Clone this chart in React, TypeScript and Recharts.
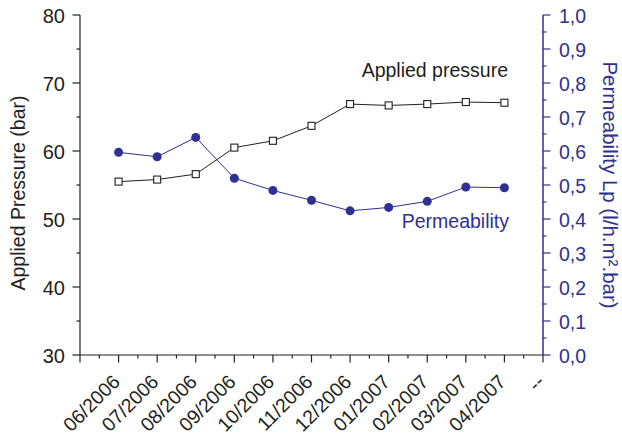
import React from 'react';
import { LineChart, Line, XAxis, YAxis } from 'recharts';

const xLabels = ['', '06/2006', '07/2006', '08/2006', '09/2006', '10/2006', '11/2006', '12/2006', '01/2007', '02/2007', '03/2007', '04/2007', '--'];
const xTicks = [0, 0.5, 1, 1.5, 2, 2.5, 3, 3.5, 4, 4.5, 5, 5.5, 6, 6.5, 7, 7.5, 8, 8.5, 9, 9.5, 10, 10.5, 11, 11.5, 12];
const pressure = [55.5, 55.8, 56.6, 60.5, 61.5, 63.7, 66.9, 66.7, 66.9, 67.2, 67.1];
const permeability = [0.596, 0.583, 0.64, 0.52, 0.484, 0.455, 0.424, 0.434, 0.452, 0.494, 0.492];
const leftTicks = [30, 35, 40, 45, 50, 55, 60, 65, 70, 75, 80];
const rightTicks = [0, 0.05, 0.1, 0.15, 0.2, 0.25, 0.3, 0.35, 0.4, 0.45, 0.5, 0.55, 0.6, 0.65, 0.7, 0.75, 0.8, 0.85, 0.9, 0.95, 1];

const data = pressure.map((p, i) => ({ x: i + 1, label: xLabels[i + 1], pressure: p, perm: permeability[i] }));

const BLACK = '#231f20';
const BLUE = '#2E3192';
const FONT = '"Liberation Sans", Arial, Helvetica, sans-serif';

const isInt = (v: number) => Math.abs(v - Math.round(v)) < 1e-6;

const XTick = (props: any) => {
  const { x, y, payload } = props;
  const v = payload.value as number;
  const major = isInt(v);
  const label = major ? xLabels[Math.round(v)] : '';
  return (
    <g>
      <line x1={x} x2={x} y1={y} y2={y + (major ? 7.5 : 3.5)} stroke={BLACK} strokeWidth={1.2} />
      {label ? (
        <text
          transform={`translate(${x + 2.5},${y + 28}) rotate(-45)`}
          textAnchor="end"
          fontSize={19.5}
          fontFamily={FONT}
          fill={BLACK}
        >
          {label}
        </text>
      ) : null}
    </g>
  );
};

const TopTick = (props: any) => {
  const { x, y, payload } = props;
  const v = payload.value as number;
  const major = isInt(v);
  return <line x1={x} x2={x} y1={y} y2={y + (major ? 5 : 3.5)} stroke={BLACK} strokeWidth={1.2} />;
};

const LeftTick = (props: any) => {
  const { x, y, payload } = props;
  const v = payload.value as number;
  const major = Math.round(v) % 10 === 0;
  return (
    <g>
      <line x1={x} x2={x - (major ? 7.5 : 3.5)} y1={y} y2={y} stroke={BLACK} strokeWidth={1.2} />
      {major ? (
        <text x={x - 15} y={y} dy="0.42em" textAnchor="end" fontSize={20} fontFamily={FONT} fill={BLACK}>
          {String(v)}
        </text>
      ) : null}
    </g>
  );
};

const RightTick = (props: any) => {
  const { x, y, payload } = props;
  const v = payload.value as number;
  const major = Math.abs(v * 10 - Math.round(v * 10)) < 1e-6;
  return (
    <g>
      <line x1={x} x2={x + (major ? 7.5 : 3.5)} y1={y} y2={y} stroke={BLUE} strokeWidth={1.2} />
      {major ? (
        <text x={x + 16} y={y} dy="0.42em" textAnchor="start" fontSize={19.5} fontFamily={FONT} fill={BLUE}>
          {v.toFixed(1).replace('.', ',')}
        </text>
      ) : null}
    </g>
  );
};

const SquareDot = (props: any) => {
  const { cx, cy, index } = props;
  if (cx == null || cy == null) return <g key={`sq-${index}`} />;
  return <rect key={`sq-${index}`} x={cx - 3.5} y={cy - 3.5} width={7} height={7} fill="#fff" stroke={BLACK} strokeWidth={1.1} />;
};

export default function App() {
  return (
    <div style={{ position: 'absolute', left: 0, top: 0, background: '#fff' }}>
      <LineChart width={622} height={437} data={data} margin={{ top: 15, right: 0, bottom: 0, left: 0 }}>
        <XAxis
          xAxisId="bottom"
          dataKey="x"
          type="number"
          domain={[0, 12]}
          ticks={xTicks}
          interval={0}
          tickSize={0}
          tickMargin={0}
          tickLine={false}
          axisLine={{ stroke: BLACK, strokeWidth: 1.2 }}
          tick={(p: any) => <XTick {...p} />}
          height={82}
        />
        <XAxis
          xAxisId="top"
          orientation="top"
          dataKey="x"
          type="number"
          domain={[0, 12]}
          ticks={xTicks}
          interval={0}
          tickSize={0}
          tickMargin={0}
          tickLine={false}
          axisLine={{ stroke: BLACK, strokeWidth: 1.2 }}
          tick={(p: any) => <TopTick {...p} />}
          height={0}
        />
        <YAxis
          yAxisId="left"
          type="number"
          domain={[30, 80]}
          ticks={leftTicks}
          interval={0}
          tickSize={0}
          tickMargin={0}
          tickLine={false}
          axisLine={{ stroke: BLACK, strokeWidth: 1.2 }}
          tick={(p: any) => <LeftTick {...p} />}
          width={80}
        />
        <YAxis
          yAxisId="right"
          orientation="right"
          type="number"
          domain={[0, 1]}
          ticks={rightTicks}
          interval={0}
          tickSize={0}
          tickMargin={0}
          tickLine={false}
          axisLine={{ stroke: BLUE, strokeWidth: 1.5 }}
          tick={(p: any) => <RightTick {...p} />}
          width={79}
        />
        <Line
          xAxisId="bottom"
          yAxisId="right"
          dataKey="perm"
          type="linear"
          stroke={BLUE}
          strokeWidth={1}
          dot={{ r: 4.5, fill: BLUE, stroke: BLUE, strokeWidth: 0 }}
          isAnimationActive={false}
        />
        <Line
          xAxisId="bottom"
          yAxisId="left"
          dataKey="pressure"
          type="linear"
          stroke={BLACK}
          strokeWidth={1}
          dot={(p: any) => <SquareDot {...p} key={`sq-${p.index}`} />}
          isAnimationActive={false}
        />
        <text transform="translate(25,193) rotate(-90)" textAnchor="middle" fontSize={19.5} fontFamily={FONT} fill={BLACK}>
          Applied Pressure (bar)
        </text>
        <text transform="translate(603,185) rotate(90)" textAnchor="middle" fontSize={20.5} fontFamily={FONT} fill={BLUE}>
          Permeability Lp (l/h.m².bar)
        </text>
        <text x={508} y={77} textAnchor="end" fontSize={19.5} fontFamily={FONT} fill={BLACK}>
          Applied pressure
        </text>
        <text x={509} y={228} textAnchor="end" fontSize={19.5} fontFamily={FONT} fill={BLUE}>
          Permeability
        </text>
      </LineChart>
    </div>
  );
}
